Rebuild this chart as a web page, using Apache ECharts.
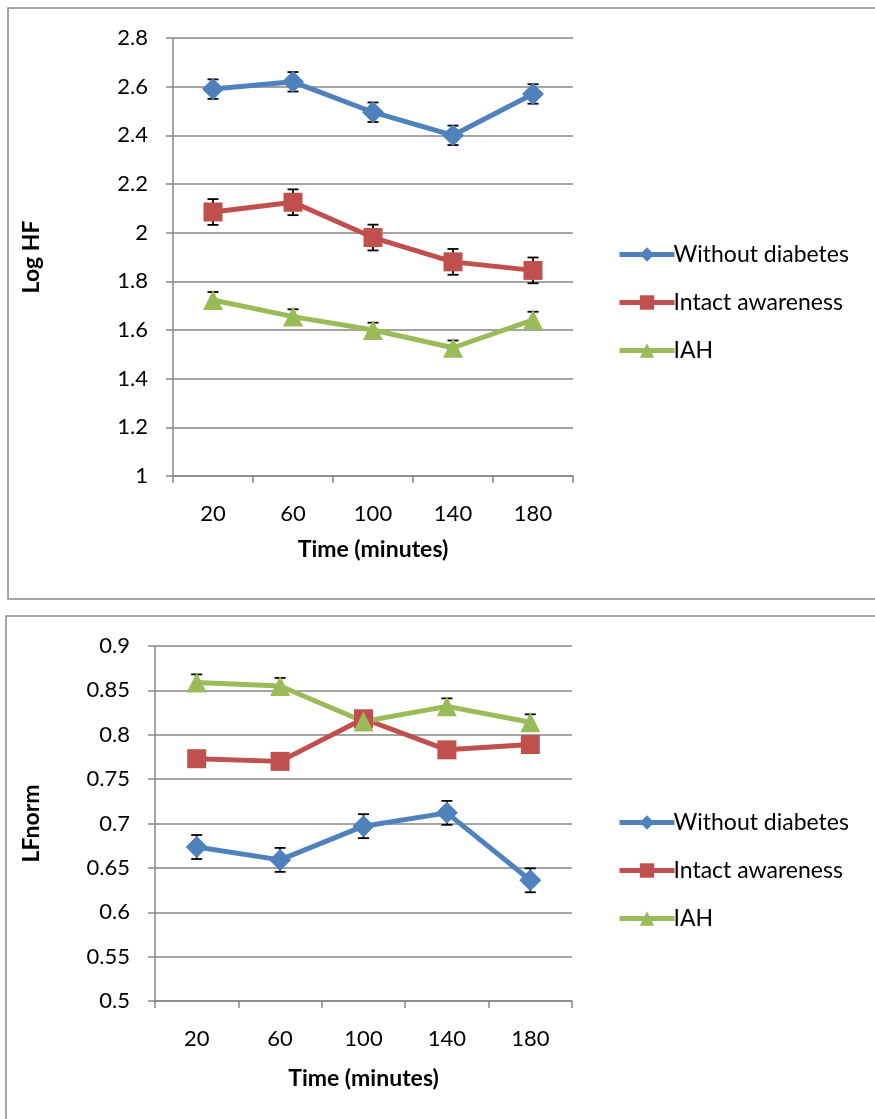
<!DOCTYPE html>
<html><head><meta charset="utf-8">
<script src="https://cdn.jsdelivr.net/npm/echarts@6/dist/echarts.min.js"></script>
<style>html,body{margin:0;padding:0;background:#fff}#c{width:875px;height:1119px}</style>
</head><body><div id="c"></div>
<script>
const categories = ['20', '60', '100', '140', '180'];
const seriesNames = ['Without diabetes', 'Intact awareness', 'IAH'];
// Top chart: Log HF
const hfWithout = [2.59, 2.62, 2.495, 2.40, 2.57];
const hfIntact = [2.085, 2.125, 1.98, 1.88, 1.845];
const hfIAH = [1.723, 1.655, 1.60, 1.527, 1.642];
const hfWithoutErr = [0.04, 0.04, 0.04, 0.04, 0.04];
const hfIntactErr = [0.053, 0.053, 0.053, 0.053, 0.053];
const hfIAHErr = [0.033, 0.03, 0.03, 0.03, 0.033];
// Bottom chart: LFnorm
const lfWithout = [0.6735, 0.659, 0.697, 0.712, 0.636];
const lfIntact = [0.773, 0.770, 0.818, 0.783, 0.789];
const lfIAH = [0.859, 0.855, 0.815, 0.832, 0.814];
const lfWithoutErr = [0.0135, 0.0135, 0.0135, 0.0135, 0.0135];
const lfIntactErr = [0.006, 0.006, 0.006, 0.006, 0.006];
const lfIAHErr = [0.009, 0.009, 0.009, 0.009, 0.009];

const colors = ['#4F81BD', '#C0504D', '#9BBB59'];
const symbols = ['diamond', 'rect', 'triangle'];
const symbolSizes = [22, 19, 20];
const FONT = 'Lato';

function lineSeries(i, data, gi) {
  return {
    type: 'line', name: seriesNames[i], xAxisIndex: gi, yAxisIndex: gi,
    data: data, symbol: symbols[i], symbolSize: symbolSizes[i],
    lineStyle: {color: colors[i], width: 5}, itemStyle: {color: colors[i]},
    z: 3, animation: false
  };
}
function errSeries(vals, errs, gi) {
  return {
    type: 'custom', name: 'err' + gi, xAxisIndex: gi, yAxisIndex: gi, z: 2,
    data: vals.map((v, k) => [k, v - errs[k], v + errs[k]]),
    renderItem: function (params, api) {
      const lo = api.coord([api.value(0), api.value(1)]);
      const hi = api.coord([api.value(0), api.value(2)]);
      const w = 5.5;
      const st = {stroke: '#000', lineWidth: 1.8};
      return {type: 'group', children: [
        {type: 'line', shape: {x1: lo[0], y1: lo[1], x2: hi[0], y2: hi[1]}, style: st},
        {type: 'line', shape: {x1: lo[0] - w, y1: lo[1], x2: lo[0] + w, y2: lo[1]}, style: st},
        {type: 'line', shape: {x1: hi[0] - w, y1: hi[1], x2: hi[0] + w, y2: hi[1]}, style: st}
      ]};
    },
    animation: false
  };
}
function xAx(gi, gap) {
  return {
    type: 'category', gridIndex: gi, data: categories, boundaryGap: true,
    name: 'Time (minutes)', nameLocation: 'middle', nameGap: gap,
    nameTextStyle: {fontFamily: FONT, fontSize: 23, fontWeight: 'bold', color: '#000'},
    axisLine: {lineStyle: {color: '#868686', width: 1.5}},
    axisTick: {show: true, alignWithLabel: false, length: 7, lineStyle: {color: '#868686', width: 1.5}},
    axisLabel: {fontFamily: FONT, fontSize: 22, color: '#000', margin: 27}
  };
}
function yAx(gi, name, min, max, interval, gap) {
  return {
    type: 'value', gridIndex: gi, min: min, max: max, interval: interval,
    name: name, nameLocation: 'middle', nameGap: gap, nameRotate: 90,
    nameTextStyle: {fontFamily: FONT, fontSize: 23, fontWeight: 'bold', color: '#000'},
    axisLine: {show: true, lineStyle: {color: '#868686', width: 1.5}},
    axisTick: {show: true, length: 7, lineStyle: {color: '#868686', width: 1.5}},
    axisLabel: {fontFamily: FONT, fontSize: 22, color: '#000', margin: 25},
    splitLine: {show: true, lineStyle: {color: '#868686', width: 1.5}}
  };
}
function legend(top) {
  return {
    orient: 'vertical', left: 612, top: top, itemWidth: 55, itemHeight: 18, itemGap: 25,
    data: seriesNames, selectedMode: false,
    lineStyle: {width: 5},
    textStyle: {fontFamily: FONT, fontSize: 23, color: '#000', padding: [0, 0, 0, -6]}
  };
}

const chart = echarts.init(document.getElementById('c'), null, {renderer: 'canvas'});
chart.setOption({
  animation: false,
  backgroundColor: '#fff',
  graphic: [
    {type: 'rect', shape: {x: 8, y: 8, width: 900, height: 591}, style: {fill: 'none', stroke: '#888', lineWidth: 1.5}, silent: true},
    {type: 'rect', shape: {x: 6, y: 616, width: 900, height: 520}, style: {fill: 'none', stroke: '#888', lineWidth: 1.5}, silent: true}
  ],
  grid: [
    {left: 173, top: 38, width: 400, height: 438},
    {left: 155, top: 646, width: 417, height: 355}
  ],
  legend: [legend(238), legend(806)],
  xAxis: [xAx(0, 62), xAx(1, 66)],
  yAxis: [yAx(0, 'Log HF', 1, 2.8, 0.2, 130), yAx(1, 'LFnorm', 0.5, 0.9, 0.05, 112)],
  series: [
    errSeries(hfWithout, hfWithoutErr, 0), errSeries(hfIntact, hfIntactErr, 0), errSeries(hfIAH, hfIAHErr, 0),
    lineSeries(0, hfWithout, 0), lineSeries(1, hfIntact, 0), lineSeries(2, hfIAH, 0),
    errSeries(lfWithout, lfWithoutErr, 1), errSeries(lfIntact, lfIntactErr, 1), errSeries(lfIAH, lfIAHErr, 1),
    lineSeries(0, lfWithout, 1), lineSeries(1, lfIntact, 1), lineSeries(2, lfIAH, 1)
  ]
});
</script></body></html>
